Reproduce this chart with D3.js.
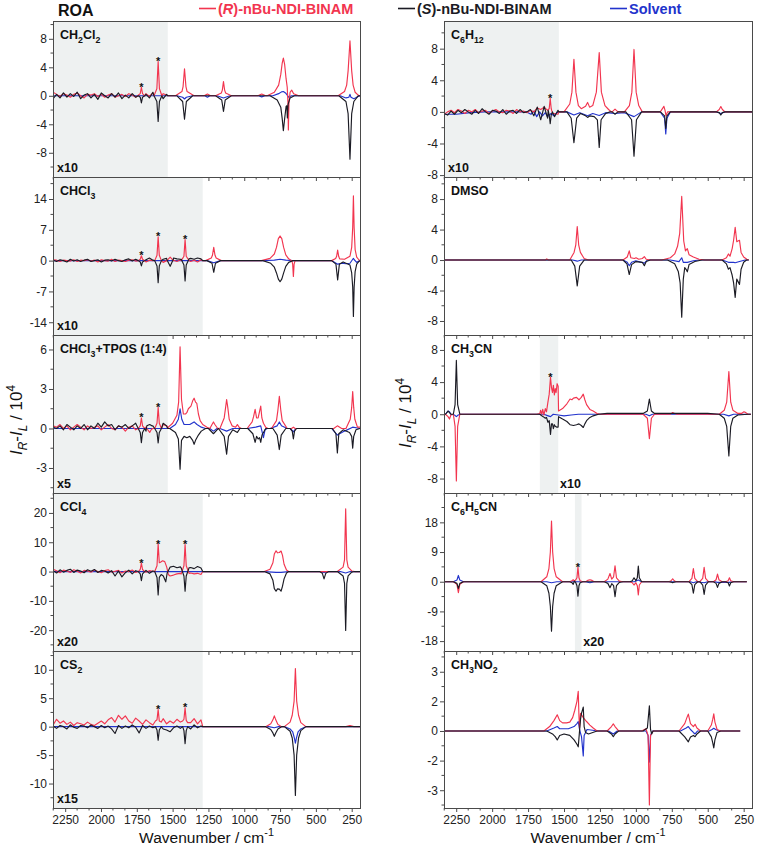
<!DOCTYPE html>
<html><head><meta charset="utf-8">
<script src="https://cdn.jsdelivr.net/npm/d3@7"></script>
<style>
body{margin:0;background:#fff}
svg{display:block;font-family:"Liberation Sans",Arial,sans-serif}
</style>
</head><body>
<svg id="c" width="759" height="848"></svg>
<script>
// ---------------- shared axis data ----------------
const X_DOMAIN = [2335, 192];
const X_MAJOR = [2250, 2000, 1750, 1500, 1250, 1000, 750, 500, 250];
const NOISE_STEP = 24;
const LEGEND = ["(R)-nBu-NDI-BINAM", "(S)-nBu-NDI-BINAM", "Solvent"];

// ---------------- CH2Cl2 ----------------
const L_CH2Cl2 = [["CH",""],["2","sub"],["Cl",""],["2","sub"]];
const T_CH2Cl2 = [8,4,0,-4,-8];
const Y_CH2Cl2 = [-11.4,10.5];
const SH_CH2Cl2 = [[2335,1534]];
const ST_CH2Cl2 = [[1718,1.2],[1601,4.8]];
const NR_CH2Cl2 = [0.5,0.2,-0.1,0.3,0.1,-0.2,0.2,0.4,0.0,-0.3,0.2,0.1,0.3,-0.1,0.2,-0.2,0.1,0.3,-0.2,0.0,0.2,-0.1,0.3,0.1,-0.2,0.2,0.0,0.3,-0.1,0.4,0.2,-0.2,0.3,0.1];
const NS_CH2Cl2 = [-0.4,0.2,-0.3,0.4,-0.2,0.3,-0.1,0.5,-0.4,0.1,0.3,-0.3,0.2,-0.5,0.4,0.0,-0.3,0.3,-0.2,0.4,-0.4,0.1,-0.3,0.3,-0.2,0.4,-0.5,0.2,-0.3,0.5,-0.2,0.3,-0.4,0.2];
const R_CH2Cl2 = [
 [[1745,0],[1726,0.3],[1718,1.2],[1710,0.3],[1695,0]],
 [[1630,0],[1610,1.0],[1601,4.8],[1592,1.0],[1575,0]],
 [[1480,0],[1435,0.6],[1427,1.3],[1417,3.8],[1407,1.3],[1399,0.6],[1350,0]],
 [[1280,0],[1257,0.25],[1235,0]],
 [[1200,0],[1160,0.4],[1153,0.8],[1145,2.0],[1137,0.8],[1130,0.4],[1090,0]],
 [[905,0],[878,0.25],[850,0]],
 [[840,0],[790,0.5],[760,1.5],[745,3.0],[735,4.6],[727,5.3],[718,4.4],[708,2.4],[700,1.2],[695,-1.0],[692,-4.8],[688,-1.0],[680,0.5],[669,0.8],[655,0.3],[620,0]],
 [[345,0],[300,0.6],[285,1.5],[275,3.5],[262,7.7],[250,3.5],[240,1.5],[226,0.5],[205,0.1],[195,0]]
];
const S_CH2Cl2 = [
 [[1740,0],[1726,-0.2],[1718,-1.0],[1710,-0.2],[1695,0]],
 [[1630,0],[1610,-0.8],[1601,-3.6],[1592,-0.8],[1575,0]],
 [[1470,0],[1430,-0.8],[1417,-3.3],[1404,-0.8],[1360,0]],
 [[1200,0],[1157,-0.6],[1145,-2.2],[1133,-0.6],[1090,0]],
 [[820,0],[770,-0.6],[745,-1.6],[735,-3.2],[727,-4.9],[718,-3.2],[708,-1.5],[703,-1.4],[699,-3.1],[694,-1.2],[680,-0.3],[650,0]],
 [[340,0],[290,-0.8],[275,-2.5],[262,-8.9],[250,-2.5],[235,-0.8],[205,0]]
];
const V_CH2Cl2 = [
 [[1470,0],[1430,-0.2],[1417,-0.45],[1404,-0.2],[1360,0]],
 [[1275,0],[1257,-0.2],[1240,0]],
 [[1190,0],[1145,-0.3],[1100,0]],
 [[900,0],[878,-0.15],[855,0]],
 [[800,0],[760,0.3],[740,0.55],[727,0.6],[712,0.4],[700,0.1],[690,-0.2],[670,0]],
 [[330,0],[290,-0.3],[270,-0.2],[262,0.2],[255,-0.2],[235,-0.4],[205,-0.1],[192,0]]
];

// ---------------- CHCl3 ----------------
const L_CHCl3 = [["CHCl",""],["3","sub"]];
const T_CHCl3 = [14,7,0,-7,-14];
const Y_CHCl3 = [-16.9,19.0];
const SH_CHCl3 = [[2335,1290]];
const ST_CHCl3 = [[1718,1.1],[1601,5.4],[1413,4.8]];
const NR_CHCl3 = [0.2,0.1,-0.2,0.1,0.0,-0.1,0.2,-0.2,0.1,0.0,0.2,-0.1,0.1,-0.3,0.2,0.0,-0.1,0.3,-0.2,0.1,0.0,-0.2,0.1,0.2,-0.1,0.0,0.2,-0.3,0.1,0.0,-0.2,0.1,-0.4,0.0,-0.3,0.1,-0.2,0.2,-0.3,0.0,-0.2,0.1,-0.3,0.2];
const NS_CHCl3 = [0.1,-0.2,0.2,0.0,-0.3,0.3,-0.1,0.2,-0.2,0.1,0.3,-0.2,0.0,0.2,-0.3,0.1,0.2,-0.1,0.3,0.0,-0.2,0.2,0.4,-0.1,0.3,0.0,0.5,0.2,0.6,0.1,0.4,0.6,0.3,0.5,0.2,0.6,0.4,0.3,0.7,0.4,0.5,0.3,0.6,0.4];
const R_CHCl3 = [
 [[1740,0],[1726,0.3],[1718,1.1],[1710,0.3],[1695,0]],
 [[1625,0],[1609,1.2],[1601,5.4],[1593,1.2],[1578,0]],
 [[1540,0],[1517,0.8],[1495,0]],
 [[1440,0],[1421,1.0],[1413,4.8],[1405,1.0],[1385,0]],
 [[1270,0],[1230,0.6],[1222,1.2],[1213,3.0],[1204,1.2],[1196,0.6],[1160,0]],
 [[880,0],[820,0.5],[790,1.5],[775,3.0],[762,5.0],[750,5.6],[738,5.0],[725,3.0],[710,1.3],[690,0.4],[670,0]],
 [[668,0],[662,-0.8],[657,-3.6],[652,-0.8],[645,0]],
 [[390,0],[362,0.5],[355,1.0],[348,2.4],[341,1.0],[334,0.4],[300,0.3],[262,1.0],[250,3.0],[243,7.5],[238,14.7],[233,7.5],[226,2.5],[215,0.8],[200,0.2],[192,0]]
];
const S_CHCl3 = [
 [[1740,0],[1726,-0.3],[1718,-1.2],[1710,-0.3],[1695,0]],
 [[1625,0],[1609,-1.2],[1601,-5.0],[1593,-1.2],[1578,0]],
 [[1540,0.2],[1517,-1.3],[1495,0.3]],
 [[1440,0.3],[1421,-1.0],[1413,-4.6],[1405,-1.0],[1385,0.4]],
 [[1260,0],[1225,-0.6],[1213,-2.65],[1201,-0.6],[1165,0]],
 [[870,0],[815,-0.6],[790,-1.5],[775,-2.8],[762,-4.2],[750,-4.8],[738,-4.2],[725,-2.8],[710,-1.3],[690,-0.4],[660,0]],
 [[390,0],[360,-0.8],[348,-4.4],[336,-0.8],[310,-0.3],[262,-1.0],[250,-2.8],[243,-6.0],[238,-12.7],[233,-6.0],[226,-2.5],[215,-0.8],[200,-0.2],[192,0]]
];
const V_CHCl3 = [
 [[1260,0],[1213,-0.5],[1165,0]],
 [[870,0],[790,0.1],[750,0.3],[710,0.1],[660,0]],
 [[390,0],[348,-0.8],[320,-0.6],[290,-0.7],[262,-0.6],[245,0.2],[238,0.5],[232,0.2],[215,-0.4],[192,0]]
];

// ---------------- CHCl3 + TPOS ----------------
const L_TPOS = [["CHCl",""],["3","sub"],["+TPOS (1:4)",""]];
const T_TPOS = [6,3,0,-3];
const Y_TPOS = [-4.9,7.1];
const SH_TPOS = [[2335,1534]];
const ST_TPOS = [[1718,0.8],[1601,1.6]];
const NR_TPOS = [0.2,0.1,0.3,0.0,0.2,-0.1,0.1,0.3,0.1,-0.1,0.2,0.0,0.1,0.2,-0.1,0.1,0.3,0.0,-0.1,0.2,0.1,-0.2,0.1,0.2,-0.1,0.0,0.2,0.1,-0.2,0.0,-0.3,0.2,0.3,0.2];
const NS_TPOS = [0.1,0.0,0.2,-0.1,0.3,0.1,-0.1,0.2,0.0,0.3,-0.1,0.2,0.0,0.4,0.1,0.5,0.2,0.3,-0.1,0.2,0.1,0.3,0.0,0.2,0.4,0.1,0.3,-0.2,0.4,0.2,0.3,0.1,0.4,0.2];
const R_TPOS = [
 [[1740,0],[1726,0.2],[1718,0.8],[1710,0.2],[1695,0]],
 [[1680,0],[1660,-0.3],[1650,-0.1],[1640,0]],
 [[1625,0],[1609,0.4],[1601,1.6],[1593,0.4],[1578,0]],
 [[1530,0.1],[1500,0.4],[1470,1.0],[1458,2.0],[1448,6.2],[1438,2.2],[1425,1.1],[1410,1.1],[1401,1.2],[1390,1.5],[1372,1.7],[1360,2.1],[1350,2.3],[1340,2.0],[1331,1.9],[1320,1.1],[1308,0.6],[1290,0.3],[1260,0.1],[1240,0]],
 [[1240,0],[1225,0.3],[1215,0.5],[1205,0.3],[1185,0]],
 [[1170,0],[1140,0.8],[1130,1.6],[1123,2.2],[1115,1.6],[1105,0.7],[1085,0.2],[1060,0.1],[1048,0.3],[1036,0.1],[1020,0]],
 [[980,0],[945,0.5],[935,0.9],[924,1.45],[914,0.8],[903,0.8],[893,1.3],[885,1.7],[877,0.8],[866,0.4],[850,0.1],[835,0]],
 [[810,0],[775,0.6],[765,1.4],[755,2.45],[745,1.4],[735,0.6],[700,0]],
 [[670,0],[657,0.1],[645,0]],
 [[375,0],[350,0.2],[320,0]],
 [[290,0],[260,0.7],[250,1.6],[243,2.8],[236,1.6],[228,0.7],[210,0.1],[192,0.1]]
];
const S_TPOS = [
 [[1740,0],[1726,-0.3],[1718,-1.07],[1710,-0.3],[1695,0]],
 [[1680,0.2],[1660,0.3],[1645,0.2]],
 [[1625,0],[1609,-0.3],[1601,-1.1],[1593,-0.3],[1578,0]],
 [[1520,0],[1480,-0.3],[1460,-0.8],[1448,-3.1],[1438,-0.9],[1420,-0.6],[1401,-0.7],[1380,-0.6],[1360,-0.9],[1350,-1.2],[1340,-0.9],[1320,-0.5],[1300,-0.2],[1270,0]],
 [[1250,0],[1215,-0.4],[1190,-0.1]],
 [[1180,0],[1140,-0.6],[1123,-1.95],[1110,-0.6],[1080,-0.1],[1048,-0.3],[1030,0]],
 [[975,0],[940,-0.4],[924,-1.05],[914,-0.6],[903,-0.8],[893,-0.7],[885,-1.05],[876,-0.5],[866,-0.3],[850,0]],
 [[800,0],[770,-0.5],[755,-1.6],[742,-0.5],[710,0]],
 [[680,0],[665,-0.2],[657,-0.8],[649,-0.2],[635,0]],
 [[385,0],[360,-0.4],[350,-1.85],[340,-0.4],[310,-0.1],[265,-0.3],[250,-0.6],[243,-1.5],[236,-0.6],[220,-0.1],[192,0]]
];
const V_TPOS = [
 [[1520,0],[1480,0.3],[1460,0.7],[1448,1.5],[1436,0.7],[1420,0.3],[1380,0.3],[1350,0.5],[1330,0.3],[1300,0.1],[1270,0]],
 [[1240,0],[1215,-0.2],[1190,0]],
 [[1170,0],[1123,-0.2],[1080,0]],
 [[980,0],[920,0.1],[885,0.2],[866,-0.7],[855,-0.1],[840,0]],
 [[820,0],[770,0.2],[755,0.5],[740,0.2],[700,0]],
 [[680,0],[657,-0.25],[640,0]],
 [[390,0],[350,-0.5],[300,-0.2],[243,0.1],[192,0]]
];

// ---------------- CCl4 ----------------
const L_CCl4 = [["CCl",""],["4","sub"]];
const T_CCl4 = [20,10,0,-10,-20];
const Y_CCl4 = [-27.1,26.8];
const SH_CCl4 = [[2335,1290]];
const ST_CCl4 = [[1718,2.9],[1601,9.4],[1413,9.2]];
const NR_CCl4 = [0.8,0.3,-0.4,0.5,0.2,-0.3,0.6,0.1,-0.5,0.4,0.2,-0.2,0.5,0.0,-0.4,0.3,0.6,-0.2,0.1,0.4,-0.5,0.2,0.0,0.5,-0.3,0.2,0.4,-0.2,0.3,0.1,-0.4,0.2,-0.6,-0.9,-1.5,-1.2,-0.8,-0.6,-0.9,-0.7,-0.5,-0.8,-0.6,-1.0];
const NS_CCl4 = [0.3,-0.5,0.6,-0.2,0.4,0.8,-0.3,0.5,0.2,-0.4,0.6,0.1,0.7,-0.3,0.4,0.2,-0.5,0.3,-1.5,0.2,-1.8,-0.4,0.5,-0.8,0.3,0.6,-0.2,0.4,-0.6,0.2,0.3,-0.4,0.5,1.0,1.5,1.8,1.3,1.6,1.2,1.9,1.4,1.0,1.7,1.2];
const R_CCl4 = [
 [[1740,0],[1726,0.7],[1718,2.9],[1710,0.7],[1695,0]],
 [[1625,0],[1609,2.0],[1601,9.4],[1593,3.0],[1585,3.2],[1570,3.7],[1555,3.4],[1541,1.5],[1530,-1.0]],
 [[1440,-0.8],[1421,2.0],[1413,9.2],[1405,2.0],[1385,-0.6]],
 [[860,0],[820,0.8],[800,3.0],[790,6.0],[778,7.1],[768,6.4],[755,6.5],[743,7.0],[733,5.5],[722,2.5],[705,0.5],[690,0]],
 [[350,0],[310,1.5],[300,4.0],[292,21.4],[284,4.0],[275,1.5],[250,0.2],[230,0]]
];
const S_CCl4 = [
 [[1740,0],[1726,-0.8],[1718,-3.1],[1710,-0.8],[1695,0]],
 [[1625,0],[1609,-2.0],[1601,-8.0],[1593,-2.0],[1580,-1.0],[1565,-1.5],[1548,-3.5],[1538,-0.5],[1525,0.8]],
 [[1440,1.2],[1421,-1.5],[1413,-6.7],[1405,-1.5],[1385,1.3]],
 [[860,0],[820,-0.8],[800,-3.0],[790,-5.8],[778,-6.7],[768,-5.9],[755,-6.0],[743,-6.7],[733,-5.0],[722,-2.5],[705,-0.5],[690,0]],
 [[475,0],[455,-0.6],[443,-2.5],[431,-0.6],[410,0]],
 [[350,0],[310,-1.5],[300,-4.0],[292,-20.1],[284,-4.0],[275,-1.5],[250,-0.2],[230,0]]
];
const V_CCl4 = [
 [[860,0],[778,-0.3],[743,-0.3],[690,0]],
 [[470,0],[443,-0.4],[420,0]],
 [[330,0],[292,-0.5],[260,0]]
];

// ---------------- CS2 ----------------
const L_CS2 = [["CS",""],["2","sub"]];
const T_CS2 = [10,5,0,-5,-10];
const Y_CS2 = [-14.3,13.3];
const SH_CS2 = [[2335,1290]];
const ST_CS2 = [[1601,3.0],[1413,3.3]];
const NR_CS2 = [0.3,1.3,0.6,1.0,0.4,0.8,0.2,0.7,0.5,0.3,0.8,0.4,0.2,0.6,1.0,0.5,1.2,1.6,0.8,2.0,1.3,1.9,1.0,0.6,1.5,1.0,0.4,1.2,0.7,0.3,0.9,1.1,1.4,0.5,1.0,0.6,1.3,0.8,1.0,1.6,0.7,1.4,0.5,1.2];
const NS_CS2 = [0.1,-0.3,0.2,0.0,-0.4,0.3,-0.1,-0.3,0.2,0.1,-0.2,0.3,0.0,-0.3,0.2,-0.2,0.1,-0.4,-1.2,0.2,-0.3,0.1,-0.2,0.3,-0.1,-1.1,0.2,-0.3,0.1,-0.2,0.3,0.0,-0.4,-0.6,-0.9,-0.2,0.1,-0.3,0.2,-0.1,-0.4,0.3,-0.2,0.1];
const R_CS2 = [
 [[1620,1.0],[1609,1.2],[1601,3.0],[1593,1.0],[1580,0.8]],
 [[1430,1.0],[1421,1.3],[1413,3.3],[1405,1.1],[1395,0.7]],
 [[850,0],[815,0.5],[800,1.2],[790,1.9],[780,1.2],[765,0.4],[740,0]],
 [[720,0],[680,0.8],[665,2.0],[652,4.5],[643,10.2],[634,4.5],[621,2.0],[605,0.7],[570,0]],
 [[290,0],[262,0.2],[235,0]]
];
const S_CS2 = [
 [[1620,0],[1609,-0.6],[1601,-2.4],[1593,-0.6],[1580,0]],
 [[1430,0],[1421,-0.7],[1413,-3.0],[1405,-0.7],[1395,0]],
 [[850,0],[815,-0.5],[800,-1.1],[790,-1.7],[780,-1.1],[765,-0.4],[740,0]],
 [[720,0],[680,-0.8],[665,-2.0],[652,-5.0],[643,-12.1],[634,-5.0],[621,-2.0],[605,-0.7],[570,0]]
];
const V_CS2 = [
 [[830,0],[790,-0.2],[760,0]],
 [[720,0],[680,-0.4],[662,-0.9],[650,-2.0],[643,-2.9],[636,-2.0],[624,-0.9],[605,-0.4],[570,0]]
];

// ---------------- C6H12 ----------------
const L_C6H12 = [["C",""],["6","sub"],["H",""],["12","sub"]];
const T_C6H12 = [8,4,0,-4,-8];
const Y_C6H12 = [-8.24,11.5];
const SH_C6H12 = [[2335,1536]];
const ST_C6H12 = [[1596,1.7]];
const NR_C6H12 = [-0.3,0.0,0.2,-0.1,0.3,0.1,-0.2,0.2,0.0,0.3,-0.1,0.1,0.2,-0.2,0.1,0.3,0.0,-0.1,0.2,0.1,-0.2,0.3,0.0,0.1,-0.1,0.2,0.0,0.5,0.3,0.6,0.2,0.4,-0.2,-0.3];
const NS_C6H12 = [-0.2,-0.4,0.1,-0.3,0.2,-0.1,0.3,0.0,-0.3,0.2,-0.2,0.4,0.0,-0.3,0.2,0.1,-0.2,0.3,-0.3,0.1,0.2,-0.2,0.3,-0.1,0.0,0.3,-0.5,0.6,-1.0,0.7,-0.8,0.5,-0.6,0.2];
const R_C6H12 = [
 [[1610,0.3],[1603,0.4],[1596,1.7],[1589,0.4],[1580,-0.2]],
 [[1500,0],[1460,1.0],[1445,2.5],[1431,6.65],[1417,2.5],[1400,0.8],[1380,0.4],[1350,0.7],[1336,1.2],[1322,0.6],[1300,0.8],[1275,2.5],[1255,7.5],[1240,2.5],[1215,0.8],[1190,0.3],[1170,0]],
 [[1165,0],[1145,0.35],[1125,0]],
 [[1080,0],[1045,0.8],[1028,2.5],[1013,7.9],[998,2.5],[980,0.8],[955,0]],
 [[830,0],[805,0.7],[797,0.2],[790,-0.5],[780,0]],
 [[440,0],[420,0.3],[409,0.67],[398,0.3],[380,0]]
];
const S_C6H12 = [
 [[1610,0.2],[1603,-0.4],[1596,-1.5],[1589,-0.4],[1580,0]],
 [[1480,0],[1450,-0.8],[1431,-3.9],[1412,-0.8],[1385,-0.2],[1350,-0.5],[1336,-0.7],[1320,-0.5],[1290,-0.6],[1268,-1.0],[1255,-4.5],[1242,-1.0],[1210,-0.2],[1180,0]],
 [[1165,0],[1145,-0.3],[1125,0]],
 [[1070,0],[1030,-1.0],[1013,-5.6],[996,-1.0],[960,0]],
 [[830,0],[800,-0.5],[792,-2.1],[784,-0.5],[760,0]],
 [[440,0],[420,-0.1],[409,-0.4],[398,-0.1],[380,0]]
];
const V_C6H12 = [
 [[2334,-0.3],[2250,-0.3],[2150,-0.1],[2050,0]],
 [[1760,0],[1730,-0.3],[1710,0.1],[1690,-0.6],[1670,0.0],[1650,-0.5],[1630,-0.1],[1615,-0.6],[1590,-0.2],[1570,-0.5],[1550,-0.1],[1536,0]],
 [[1480,0],[1431,-0.4],[1390,-0.1],[1336,-0.5],[1300,-0.2],[1255,-0.45],[1210,-0.1],[1145,-0.2],[1080,-0.1],[1013,-0.6],[960,0]],
 [[830,0],[800,-0.8],[792,-2.8],[784,-0.8],[760,0]],
 [[440,0],[409,-0.2],[380,0]]
];

// ---------------- DMSO ----------------
const L_DMSO = [["DMSO",""]];
const T_DMSO = [8,4,0,-4,-8];
const Y_DMSO = [-9.84,10.9];
const SH_DMSO = [];
const ST_DMSO = [];
const R_DMSO = [
 [[1630,0],[1620,0.15],[1608,0]],
 [[1460,0],[1430,1.0],[1418,2.0],[1408,4.4],[1398,2.0],[1386,1.0],[1360,0.2],[1330,0]],
 [[1090,0],[1060,0.4],[1046,1.2],[1035,0.3],[1010,0.2],[999,0.3],[980,0.1],[955,0.2],[941,0.45],[928,0.1],[900,0]],
 [[820,0],[760,0.3],[730,0.8],[710,1.8],[695,3.5],[681,8.35],[667,2.5],[655,1.2],[642,1.5],[630,0.7],[600,0.4],[560,0.1],[520,0]],
 [[400,0],[370,0.3],[356,0.8],[345,0.5],[330,1.5],[320,2.6],[309,4.3],[298,2.4],[290,2.5],[279,2.6],[268,1.0],[250,0.4],[228,0.1],[215,0]]
];
const S_DMSO = [
 [[1450,0],[1425,-0.8],[1408,-3.4],[1391,-0.8],[1360,0]],
 [[1090,0],[1062,-0.5],[1046,-1.9],[1030,-0.6],[1000,-0.2],[955,-0.3],[941,-0.75],[928,-0.2],[900,0]],
 [[780,0],[730,-0.5],[705,-1.5],[692,-3.0],[681,-7.5],[670,-2.5],[660,-1.0],[648,-1.3],[642,-1.55],[630,-0.6],[590,-0.2],[540,0]],
 [[400,0],[370,-0.5],[356,-1.2],[345,-1.0],[330,-2.0],[320,-3.0],[309,-4.9],[298,-2.5],[290,-2.8],[279,-3.2],[268,-1.2],[250,-0.3],[230,0]]
];
const V_DMSO = [
 [[1440,0],[1408,-0.15],[1380,0]],
 [[1090,0],[1060,-0.3],[1046,-0.75],[1030,-0.3],[1000,-0.1],[941,-0.4],[920,0]],
 [[760,0],[700,-0.2],[681,0.3],[670,-0.3],[642,-0.3],[600,-0.1],[560,0]],
 [[400,0],[356,-0.3],[320,-0.3],[309,-0.35],[279,-0.2],[240,0]]
];

// ---------------- CH3CN ----------------
const L_CH3CN = [["CH",""],["3","sub"],["CN",""]];
const T_CH3CN = [8,4,0,-4,-8];
const Y_CH3CN = [-9.8,9.86];
const SH_CH3CN = [[1668,1540]];
const ST_CH3CN = [[1594,4.6]];
const R_CH3CN = [
 [[2325,0],[2307,-0.3],[2297,-0.6],[2287,-0.1],[2270,0],[2258,-1.5],[2249,-8.3],[2240,-1.5],[2225,0]],
 [[1690,0],[1668,0.1],[1663,0.5],[1655,0.0],[1648,0.6],[1640,-0.1],[1630,0.7],[1622,0.3],[1612,1.5],[1603,2.5],[1594,4.6],[1587,3.3],[1580,2.7],[1574,3.6],[1567,2.4],[1561,3.2],[1555,2.7],[1548,3.8],[1541,3.5],[1538,0.4],[1510,0.7],[1480,1.3],[1458,1.9],[1445,1.8],[1434,2.0],[1413,2.1],[1396,1.8],[1380,2.1],[1366,2.5],[1355,1.8],[1343,1.2],[1320,0.6],[1297,0.4],[1270,0.1],[1250,0]],
 [[950,0],[920,-0.5],[906,-3.05],[892,-0.5],[870,0]],
 [[760,0],[745,0.2],[730,0.1],[715,0]],
 [[420,0],[385,0.5],[368,1.5],[353,5.3],[340,1.5],[325,0.5],[290,0.1],[265,0.1],[248,0.3],[235,0.2],[220,0]]
];
const S_CH3CN = [
 [[2325,0],[2307,0.4],[2297,0.2],[2287,0],[2270,0],[2258,1.2],[2249,6.7],[2240,1.2],[2225,0]],
 [[1690,0],[1668,0],[1655,-0.2],[1645,-0.3],[1630,-0.5],[1622,-0.4],[1612,-1.0],[1603,-0.8],[1594,-2.5],[1587,-1.2],[1580,-1.2],[1574,-1.8],[1567,-1.3],[1561,-1.5],[1552,-1.6],[1541,-1.6],[1538,-0.3],[1510,-0.6],[1480,-0.9],[1458,-1.3],[1434,-1.4],[1413,-1.3],[1396,-1.2],[1380,-1.4],[1366,-1.65],[1355,-1.2],[1343,-0.8],[1320,-0.4],[1297,-0.2],[1260,0],[1200,0.1],[1000,0.1]],
 [[950,0.1],[920,0.4],[906,1.9],[892,0.4],[870,0.1],[700,0.1],[500,0.1]],
 [[420,0],[385,-0.5],[368,-1.5],[353,-5.2],[340,-1.5],[325,-0.5],[290,-0.1],[220,0]]
];
const V_CH3CN = [
 [[2325,0],[2307,0.4],[2297,0.3],[2287,0],[2262,-0.1],[2249,-0.3],[2236,-0.1],[2220,0]],
 [[1640,0],[1610,-0.2],[1594,-0.3],[1575,0],[1540,-0.1],[1500,-0.2],[1450,-0.1],[1400,0]],
 [[930,0],[906,-0.2],[885,0]],
 [[390,0],[353,-0.2],[320,0]]
];

// ---------------- C6H5CN ----------------
const L_C6H5CN = [["C",""],["6","sub"],["H",""],["5","sub"],["CN",""]];
const T_C6H5CN = [18,9,0,-9,-18];
const Y_C6H5CN = [-21.0,26.9];
const SH_C6H5CN = [[1424,1378]];
const ST_C6H5CN = [[1403,4.35]];
const R_C6H5CN = [
 [[2270,0],[2245,-0.8],[2235,-3.3],[2225,-0.8],[2200,0]],
 [[1660,0],[1620,1.5],[1605,4.0],[1595,9.0],[1587,18.4],[1579,9.0],[1569,4.0],[1554,1.5],[1510,0]],
 [[1460,0],[1445,0.3],[1436,0.6],[1428,0.2],[1418,0.6],[1410,1.2],[1403,4.35],[1396,1.2],[1388,0.3],[1370,0]],
 [[1350,0],[1335,0.4],[1320,0.6],[1305,0.4],[1290,0]],
 [[1220,0],[1195,0.8],[1180,2.5],[1168,0.8],[1155,1.5],[1145,4.85],[1135,1.2],[1115,0.2],[1090,0]],
 [[1040,0],[1025,-0.3],[1013,-1.0],[1000,-0.3],[990,-1.2],[983,-4.0],[976,-1.0],[960,0]],
 [[770,0],[755,0.3],[744,0.9],[733,0.3],[720,0]],
 [[630,0],[610,1.0],[600,4.0],[590,1.0],[570,0]],
 [[555,0],[535,1.0],[525,4.35],[515,1.0],[495,0]],
 [[460,0],[442,0.6],[432,2.3],[422,0.6],[400,0]],
 [[375,0],[358,0.3],[349,1.2],[340,0.3],[320,0]]
];
const S_C6H5CN = [
 [[2270,0],[2245,-0.5],[2235,-2.0],[2225,-0.5],[2200,0]],
 [[1660,0],[1620,-1.2],[1605,-3.5],[1595,-7.5],[1587,-15.0],[1579,-7.5],[1569,-3.5],[1554,-1.2],[1510,0]],
 [[1460,0],[1445,-0.3],[1436,-0.8],[1428,0.2],[1418,-0.3],[1410,-1.2],[1403,-4.35],[1396,-1.2],[1388,-0.3],[1370,0]],
 [[1220,0],[1195,-0.5],[1180,-1.8],[1168,-0.6],[1155,-1.2],[1145,-4.5],[1135,-1.2],[1115,-0.2],[1090,0]],
 [[1040,0],[1025,0.3],[1013,1.2],[1000,0.3],[990,1.2],[983,4.75],[976,1.2],[960,0]],
 [[770,0],[755,-0.1],[744,-0.3],[733,-0.1],[720,0]],
 [[630,0],[610,-0.9],[600,-3.5],[590,-0.9],[570,0]],
 [[555,0],[535,-1.0],[525,-3.85],[515,-1.0],[495,0]],
 [[460,0],[442,-0.5],[432,-1.7],[422,-0.5],[400,0]],
 [[375,0],[358,-0.3],[349,-1.3],[340,-0.3],[320,0]]
];
const V_C6H5CN = [
 [[2270,0],[2245,0.5],[2235,1.9],[2225,0.5],[2200,0]],
 [[1620,0],[1587,-0.3],[1550,0]],
 [[1350,0],[1320,-0.3],[1290,0]],
 [[1010,0],[983,0.5],[960,0]],
 [[620,0],[600,-0.3],[580,0],[525,-0.3],[500,0]],
 [[450,0],[432,-0.2],[349,-0.2],[330,0]]
];

// ---------------- CH3NO2 (axis labels 3,2,0,-2,-3 on evenly spaced ticks) ----------------
const L_CH3NO2 = [["CH",""],["3","sub"],["NO",""],["2","sub"]];
const T_CH3NO2 = [3,2,0,-2,-3];
const YL_CH3NO2 = [-3.6,-2,2,3.7];
const YP_CH3NO2 = [-2.6,-1,1,2.7];
const SH_CH3NO2 = [];
const ST_CH3NO2 = [];
const R_CH3NO2 = [
 [[1640,0],[1600,0.3],[1570,0.7],[1547,1.09],[1530,0.7],[1510,0.55],[1482,0.55],[1460,0.6],[1440,0.9],[1425,1.4],[1410,2.0],[1401,2.34],[1396,1.0],[1392,0.2],[1385,1.2],[1378,1.1],[1366,0.9],[1343,0.64],[1320,0.4],[1297,0.2],[1270,0]],
 [[1200,0],[1170,0.3],[1157,0.48],[1145,0.3],[1120,0]],
 [[960,0],[930,0.15],[915,-0.3],[906,-3.5],[898,-0.3],[880,0]],
 [[700,0],[660,0.5],[645,0.9],[635,1.14],[620,0.5],[600,0.3],[588,0.45],[575,0.2],[550,0]],
 [[500,0],[475,0.4],[465,0.8],[458,1.16],[450,0.6],[435,0.1],[410,0]]
];
const S_CH3NO2 = [
 [[1620,0],[1580,-0.2],[1560,-0.4],[1547,-0.61],[1530,-0.3],[1500,-0.2],[1460,-0.3],[1430,-0.6],[1410,-0.9],[1401,-1.07],[1392,0.0],[1385,0.8],[1378,1.2],[1366,1.61],[1360,0.3],[1350,-0.1],[1330,-0.2],[1300,-0.1],[1270,0]],
 [[1200,0],[1170,-0.2],[1157,-0.39],[1145,-0.2],[1120,0]],
 [[950,0],[920,0.2],[906,1.7],[898,0.1],[890,-0.2],[880,0]],
 [[700,0],[660,-0.4],[645,-0.6],[635,-0.73],[620,-0.4],[600,-0.3],[588,-0.39],[575,-0.2],[550,0]],
 [[500,0],[475,-0.4],[465,-0.8],[458,-1.14],[450,-0.6],[435,-0.1],[410,0]]
];
const V_CH3NO2 = [
 [[1620,0],[1570,0.2],[1547,0.3],[1530,0.15],[1470,0.15],[1430,0.3],[1410,0.5],[1401,0.64],[1392,0.1],[1378,-0.4],[1366,-1.68],[1360,-0.3],[1340,0.1],[1300,0.05],[1270,0]],
 [[1190,0],[1157,-0.2],[1130,0]],
 [[930,0],[915,-0.3],[906,-2.05],[898,-0.3],[885,0]],
 [[690,0],[650,0.2],[635,0.3],[620,0.1],[600,-0.1],[588,-0.2],[570,0]],
 [[490,0],[470,0.1],[458,0.18],[445,0.1],[420,0]]
];

// ---------------- panel table ----------------
const panels = [
 {col:0,row:0,label:L_CH2Cl2,mult:"x10",ticks:T_CH2Cl2,yr:Y_CH2Cl2,shade:SH_CH2Cl2,stars:ST_CH2Cl2,R:R_CH2Cl2,S:S_CH2Cl2,V:V_CH2Cl2,nR:NR_CH2Cl2,nS:NS_CH2Cl2,x0:2334,x1:192},
 {col:0,row:1,label:L_CHCl3,mult:"x10",ticks:T_CHCl3,yr:Y_CHCl3,shade:SH_CHCl3,stars:ST_CHCl3,R:R_CHCl3,S:S_CHCl3,V:V_CHCl3,nR:NR_CHCl3,nS:NS_CHCl3,x0:2334,x1:192},
 {col:0,row:2,label:L_TPOS,mult:"x5",ticks:T_TPOS,yr:Y_TPOS,shade:SH_TPOS,stars:ST_TPOS,R:R_TPOS,S:S_TPOS,V:V_TPOS,nR:NR_TPOS,nS:NS_TPOS,x0:2334,x1:192},
 {col:0,row:3,label:L_CCl4,mult:"x20",ticks:T_CCl4,yr:Y_CCl4,shade:SH_CCl4,stars:ST_CCl4,R:R_CCl4,S:S_CCl4,V:V_CCl4,nR:NR_CCl4,nS:NS_CCl4,x0:2334,x1:192},
 {col:0,row:4,label:L_CS2,mult:"x15",ticks:T_CS2,yr:Y_CS2,shade:SH_CS2,stars:ST_CS2,R:R_CS2,S:S_CS2,V:V_CS2,nR:NR_CS2,nS:NS_CS2,x0:2334,x1:192},
 {col:1,row:0,label:L_C6H12,mult:"x10",ticks:T_C6H12,yr:Y_C6H12,shade:SH_C6H12,stars:ST_C6H12,R:R_C6H12,S:S_C6H12,V:V_C6H12,nR:NR_C6H12,nS:NS_C6H12,x0:2334,x1:192},
 {col:1,row:1,label:L_DMSO,mult:null,ticks:T_DMSO,yr:Y_DMSO,shade:SH_DMSO,stars:ST_DMSO,R:R_DMSO,S:S_DMSO,V:V_DMSO,x0:2330,x1:215},
 {col:1,row:2,label:L_CH3CN,mult:"x10",multWn:1528,ticks:T_CH3CN,yr:Y_CH3CN,shade:SH_CH3CN,stars:ST_CH3CN,R:R_CH3CN,S:S_CH3CN,V:V_CH3CN,x0:2330,x1:200},
 {col:1,row:3,label:L_C6H5CN,mult:"x20",multWn:1366,ticks:T_C6H5CN,yr:Y_C6H5CN,shade:SH_C6H5CN,stars:ST_C6H5CN,R:R_C6H5CN,S:S_C6H5CN,V:V_C6H5CN,x0:2330,x1:228},
 {col:1,row:4,label:L_CH3NO2,mult:null,ticks:T_CH3NO2,yl:YL_CH3NO2,yp:YP_CH3NO2,shade:SH_CH3NO2,stars:ST_CH3NO2,R:R_CH3NO2,S:S_CH3NO2,V:V_CH3NO2,x0:2330,x1:274}
];

// ---------------- drawing ----------------
const COLORS = {R:"#f2354f", S:"#1b1b24", V:"#2233cc"};
const FRAME = "#4a4a4a";
const SHADE = "#eef1f1";
const COLS = [{x:53,w:307},{x:444,w:308}];
const ROWS = [21,177,335,493,651,808];
const svg = d3.select("#c");

function rich(sel, segs, fs){
  let shift = 0;
  segs.forEach(([t,s])=>{
    const target = s.includes("sub") ? fs*0.32 : (s.includes("sup") ? -fs*0.42 : 0);
    const ts = sel.append("tspan").text(t).attr("dy", (target-shift).toFixed(2));
    shift = target;
    if (s.includes("sub")||s.includes("sup")) ts.attr("font-size", (fs*0.7).toFixed(1));
    if (s.startsWith("i")) ts.attr("font-style","italic");
  });
}

function buildSeries(groups, noise, p){
  const spans = groups.map(g=>d3.extent(g, d=>d[0]));
  const inSpan = x => spans.some(s=>x>=s[0] && x<=s[1]);
  let pts = [];
  groups.forEach(g=>g.forEach(d=>pts.push(d)));
  const extra = [];
  if (noise){
    noise.forEach((v,i)=>extra.push([p.x0 - i*NOISE_STEP, v]));
    extra.push([p.shade[0][1], 0]);
  } else extra.push([p.x0, 0]);
  extra.push([p.x1, 0]);
  extra.forEach(d=>{ if(!inSpan(d[0])) pts.push(d); });
  pts = pts.filter(d=>d[0]<=p.x0 && d[0]>=p.x1);
  pts.sort((a,b)=>b[0]-a[0]);
  return pts;
}

panels.forEach((p,pi)=>{
  const left = COLS[p.col].x, w = COLS[p.col].w, top = ROWS[p.row], h = ROWS[p.row+1]-top;
  const g = svg.append("g").attr("transform",`translate(${left},${top})`);
  const x = d3.scaleLinear().domain(X_DOMAIN).range([0,w]);
  let y;
  if (p.yl){
    const ps = d3.scaleLinear().domain([p.yp[0], p.yp[p.yp.length-1]]).range([h,0]);
    y = d3.scaleLinear().domain(p.yl).range(p.yp.map(ps));
  } else y = d3.scaleLinear().domain(p.yr).range([h,0]);

  // shading
  p.shade.forEach(s=>{
    const a = Math.max(0, x(s[0])), b = x(s[1]);
    g.append("rect").attr("x",a).attr("y",0).attr("width",b-a).attr("height",h).attr("fill",SHADE);
  });

  // clip
  const cid = "clip"+pi;
  g.append("clipPath").attr("id",cid).append("rect").attr("width",w).attr("height",h);

  const line = d3.line().x(d=>x(d[0])).y(d=>y(d[1]));
  const lg = g.append("g").attr("clip-path",`url(#${cid})`);
  [["V",p.V,null],["R",p.R,p.nR],["S",p.S,p.nS]].forEach(([k,groups,noise])=>{
    lg.append("path").datum(buildSeries(groups, noise, p))
      .attr("d", line).attr("fill","none").attr("stroke",COLORS[k])
      .attr("stroke-width",1.15).attr("stroke-linejoin","round");
  });

  // stars
  p.stars.forEach(([wn,v])=>{
    g.append("text").attr("x",x(wn)).attr("y",y(v)+3.5).attr("text-anchor","middle")
      .attr("font-size",11).attr("font-weight","bold").attr("fill","#111").text("*");
  });

  // frame
  g.append("rect").attr("width",w).attr("height",h).attr("fill","none")
    .attr("stroke",FRAME).attr("stroke-width",1).attr("shape-rendering","crispEdges");

  // y axis
  const ya = g.append("g").call(d3.axisLeft(y).tickValues(p.ticks).tickSize(4).tickPadding(2).tickFormat(d=>String(d)));
  ya.select(".domain").remove();
  ya.selectAll("text").attr("font-size",12).attr("font-family","Liberation Sans, Arial, sans-serif").attr("fill","#222");
  ya.selectAll("line").attr("stroke",FRAME);
  const mp = p.ticks.map(t=>y(t)).sort((a,b)=>a-b);
  const minors = [];
  for (let i=0;i<mp.length-1;i++) minors.push((mp[i]+mp[i+1])/2);
  const st = mp[1]-mp[0];
  minors.push(mp[0]-st/2, mp[mp.length-1]+st/2);
  minors.filter(v=>v>1 && v<h-1).forEach(v=>{
    g.append("line").attr("x1",-2.5).attr("x2",0).attr("y1",v).attr("y2",v).attr("stroke",FRAME);
  });

  // x axis
  const xa = g.append("g").attr("transform",`translate(0,${h})`)
    .call(d3.axisBottom(x).tickValues(X_MAJOR).tickSize(4).tickSizeOuter(0).tickPadding(3)
      .tickFormat(p.row===4 ? d=>String(d) : ()=>""));
  xa.select(".domain").remove();
  xa.selectAll("text").attr("font-size",12).attr("font-family","Liberation Sans, Arial, sans-serif").attr("fill","#222");
  xa.selectAll("line").attr("stroke",FRAME);
  const xmin = [];
  X_MAJOR.forEach(m=>{ xmin.push(m+250/3, m+500/3); });
  xmin.filter(v=>v<X_DOMAIN[0] && v>X_DOMAIN[1]).forEach(v=>{
    g.append("line").attr("x1",x(v)).attr("x2",x(v)).attr("y1",h).attr("y2",h+2.5).attr("stroke",FRAME);
  });

  // panel label
  const lt = g.append("text").attr("x",7).attr("y",18).attr("font-size",12.5).attr("font-weight","bold").attr("fill","#111");
  rich(lt, p.label, 12.5);

  // multiplier
  if (p.mult){
    const mx = p.multWn ? x(p.multWn) : 4;
    g.append("text").attr("x",mx).attr("y",h-5).attr("font-size",12.5).attr("font-weight","bold").attr("fill","#111").text(p.mult);
  }
});

// ---------------- header ----------------
svg.append("text").attr("x",58).attr("y",15.5).attr("font-size",16).attr("font-weight","bold").attr("fill","#111").text("ROA");
const legendItems = [
  {x:199, color:COLORS.R, segs:[["(",""],["R","i"],[")-nBu-NDI-BINAM",""]]},
  {x:398, color:COLORS.S, segs:[["(",""],["S","i"],[")-nBu-NDI-BINAM",""]]},
  {x:610, color:COLORS.V, segs:[[LEGEND[2],""]]}
];
legendItems.forEach(it=>{
  svg.append("line").attr("x1",it.x).attr("x2",it.x+17).attr("y1",8.5).attr("y2",8.5).attr("stroke",it.color).attr("stroke-width",1.6);
  const t = svg.append("text").attr("x",it.x+19).attr("y",13.5).attr("font-size",14.5).attr("font-weight","bold").attr("fill",it.color);
  rich(t, it.segs, 14.5);
});

// axis titles
[{cx:22, cy:420},{cx:411, cy:413}].forEach(a=>{
  const t = svg.append("text").attr("transform",`translate(${a.cx},${a.cy}) rotate(-90)`)
    .attr("text-anchor","middle").attr("font-size",17).attr("fill","#111");
  rich(t, [["I","i"],["R","isub"],["-",""],["I","i"],["L","isub"],[" / 10",""],["4","sup"]], 17);
});
[{cx:206.5},{cx:598}].forEach(a=>{
  const t = svg.append("text").attr("x",a.cx).attr("y",843).attr("text-anchor","middle").attr("font-size",15.5).attr("fill","#111");
  rich(t, [["Wavenumber / cm",""],["-1","sup"]], 15.5);
});
</script>
</body></html>
